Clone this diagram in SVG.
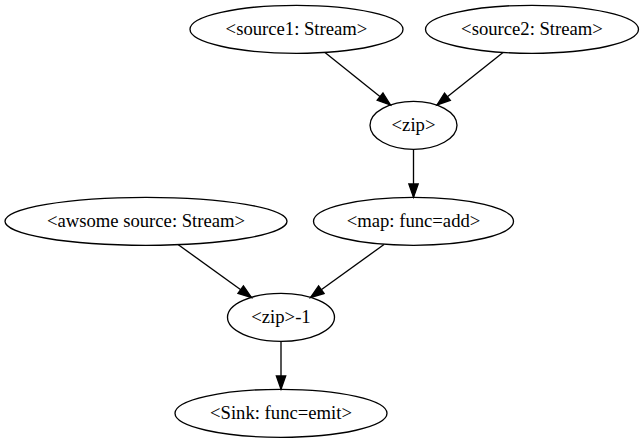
<svg xmlns="http://www.w3.org/2000/svg" width="644" height="443" viewBox="0 0 644 443">
<style>
  .node ellipse { fill: none; stroke: #000; stroke-width: 1.33; }
  .node text { font-family: "Liberation Serif", "Times New Roman", serif; font-size: 18.67px; text-anchor: middle; fill: #000; }
  .edge { fill: none; stroke: #000; stroke-width: 1.33; marker-end: url(#arr); }
</style>
<defs>
  <marker id="arr" markerUnits="userSpaceOnUse" markerWidth="20" markerHeight="14" refX="13.33" refY="4.67" orient="auto" overflow="visible">
    <path d="M0,0 L13.33,4.67 L0,9.33 Z" fill="#000" stroke="#000" stroke-width="1.33"/>
  </marker>
</defs>
<rect width="644" height="443" fill="#fff"/>
<g id="connectors">
  <path class="edge" d="M325,52.5 L390.5,105"/>
  <path class="edge" d="M503,52.5 L437,105"/>
  <path class="edge" d="M413.5,149.3 L413.5,197.3"/>
  <path class="edge" d="M178,244.5 L251.5,297.5"/>
  <path class="edge" d="M384,244.5 L310.5,297.5"/>
  <path class="edge" d="M281,341.3 L281,389.3"/>
</g>
<g id="source1" class="node">
  <ellipse cx="296.5" cy="29.3" rx="106.5" ry="24"/>
  <text x="296.5" y="34.9">&lt;source1: Stream&gt;</text>
</g>
<g id="source2" class="node">
  <ellipse cx="532" cy="29.3" rx="106.5" ry="24"/>
  <text x="532" y="34.9">&lt;source2: Stream&gt;</text>
</g>
<g id="zip" class="node">
  <ellipse cx="413.5" cy="125.3" rx="43.5" ry="24"/>
  <text x="413.5" y="130.9">&lt;zip&gt;</text>
</g>
<g id="awsome" class="node">
  <ellipse cx="146" cy="221.3" rx="141" ry="24"/>
  <text x="146" y="226.9">&lt;awsome source: Stream&gt;</text>
</g>
<g id="map" class="node">
  <ellipse cx="413.5" cy="221.3" rx="100" ry="24"/>
  <text x="413.5" y="226.9">&lt;map: func=add&gt;</text>
</g>
<g id="zip1" class="node">
  <ellipse cx="281" cy="317.3" rx="53.5" ry="24"/>
  <text x="281" y="322.9">&lt;zip&gt;-1</text>
</g>
<g id="sink" class="node">
  <ellipse cx="281" cy="413.3" rx="106" ry="24"/>
  <text x="281" y="418.9">&lt;Sink: func=emit&gt;</text>
</g>
</svg>
